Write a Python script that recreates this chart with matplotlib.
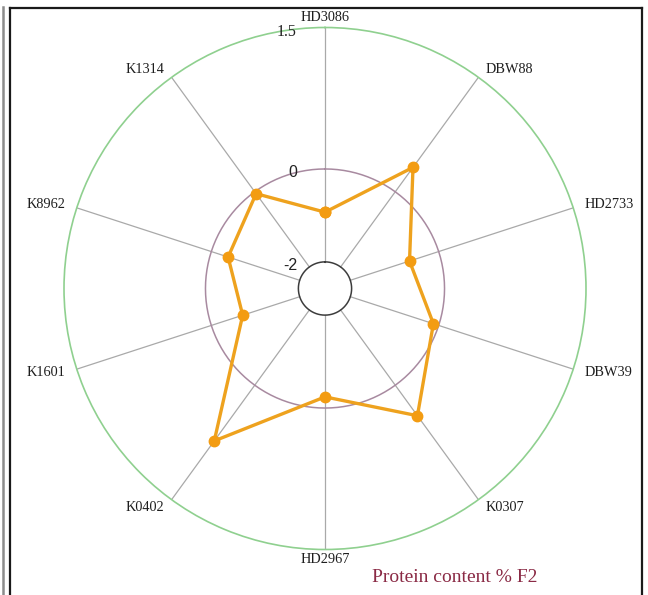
import numpy as np
import matplotlib
matplotlib.use("Agg")
import matplotlib.pyplot as plt
from matplotlib.lines import Line2D

# genotypes, clockwise from the top
GENOTYPES = ["HD3086", "DBW88", "HD2733", "DBW39", "K0307",
             "HD2967", "K0402", "K1601", "K8962", "K1314"]
PROTEIN_F2 = [-0.93, 0.32, -0.66, -0.12, 0.40,
              -0.24, 0.73, -0.71, -0.38, -0.05]

# ring values and where they sit on the radius (uneven spacing)
RING_VALUES = [-2, 0, 1.5]
RING_POS = [0.102, 0.458, 1.0]
RING_LABELS = ["-2", "0", "1.5"]
RING_COLORS = ["#3c3c3c", "#a88aa0", "#8fd08f"]

W, H, DPI = 648, 595, 100
fig = plt.figure(figsize=(W / DPI, H / DPI), dpi=DPI)

cx, cy, rad = 325, 288.5, 261
ax = fig.add_axes([(cx - rad) / W, 1 - (cy + rad) / H, 2 * rad / W, 2 * rad / H],
                  projection="polar")
ax.set_theta_zero_location("N")
ax.set_theta_direction(-1)
ax.set_ylim(0, 1)
ax.grid(False)
ax.set_xticks([])
ax.set_yticks([])
ax.spines["polar"].set_color(RING_COLORS[-1])
ax.spines["polar"].set_linewidth(1.2)

n = len(GENOTYPES)
theta = np.arange(n) * 2 * np.pi / n
full = np.linspace(0, 2 * np.pi, 361)

# spokes from the inner ring to the rim
for t in theta:
    ax.plot([t, t], [RING_POS[0], 1.0], color="#a9a9a9", lw=0.9, zorder=1)

# rings
for pos, col in zip(RING_POS[:-1], RING_COLORS[:-1]):
    ax.plot(full, np.full_like(full, pos), color=col, lw=1.1, zorder=2)

# ring value labels, just left of the top spoke
for pos, lab in zip(RING_POS, RING_LABELS):
    fam = "Liberation Serif" if lab == "1.5" else "Liberation Sans"
    ax.annotate(lab, xy=(0, pos), xytext=(-28, -4), textcoords="offset pixels",
                ha="right", va="center", fontsize=11.5, family=fam,
                color="#222222", annotation_clip=False)

# genotype labels outside the rim
for t, name in zip(theta, GENOTYPES):
    s, c = np.sin(t), np.cos(t)
    ha = "left" if s > 0.1 else ("right" if s < -0.1 else "center")
    ax.annotate(name, xy=(t, 1.0), xytext=(s * 12, c * 10),
                textcoords="offset pixels", ha=ha, va="center",
                fontsize=10.3, family="Liberation Serif", color="#1e1e1e",
                annotation_clip=False)

# protein content series
r = np.interp(PROTEIN_F2, RING_VALUES, RING_POS)
ax.plot(np.append(theta, theta[0]), np.append(r, r[0]), color="#eea21e",
        lw=2.4, marker="o", ms=7.5, mfc="#f39c12", mec="#f39c12", zorder=5)

fig.text(372 / W, 1 - 578 / H, "Protein content % F2", ha="left", va="center",
         fontsize=14, family="Liberation Serif", color="#8a2a45")

# panel frame
fig.add_artist(Line2D([10 / W, 10 / W], [0, 1 - 8 / H], color="#1a1a1a", lw=1.6))
fig.add_artist(Line2D([10 / W, 642 / W], [1 - 8 / H, 1 - 8 / H], color="#1a1a1a", lw=1.6))
fig.add_artist(Line2D([642 / W, 642 / W], [0, 1 - 8 / H], color="#1a1a1a", lw=1.6))
fig.add_artist(Line2D([2.5 / W, 2.5 / W], [0, 1 - 7 / H], color="#8c8c8c", lw=1.8))

fig.savefig("out.png", dpi=DPI)
